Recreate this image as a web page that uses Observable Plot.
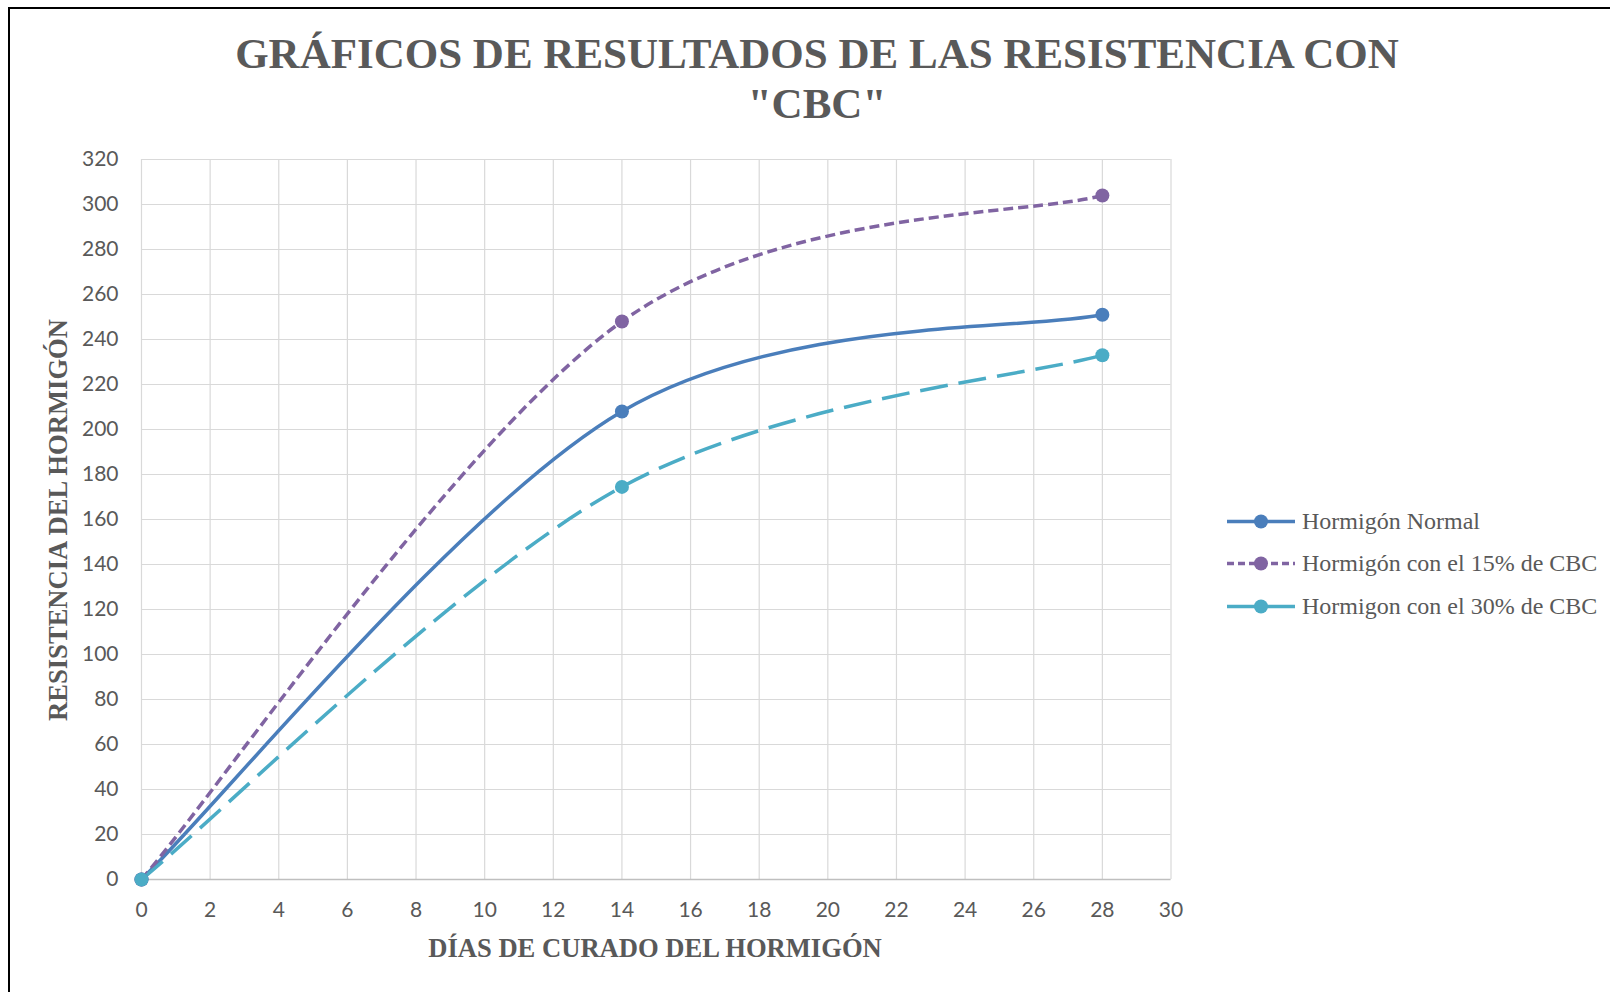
<!DOCTYPE html>
<html>
<head>
<meta charset="utf-8">
<script src="https://cdn.jsdelivr.net/npm/d3@7"></script>
<script src="https://cdn.jsdelivr.net/npm/@observablehq/plot@0.6"></script>
<style>
  html, body { margin: 0; padding: 0; background: #fff; }
  #wrap { position: relative; width: 1610px; height: 992px; overflow: hidden; background: #fff; }
  #frame { position: absolute; left: 8px; top: 7px; width: 1700px; height: 1100px; border-left: 2px solid #000; border-top: 2px solid #000; }
  #title { position: absolute; left: 0; width: 1634px; top: 29px; text-align: center; font-family: "Liberation Serif", "Times New Roman", serif; font-weight: bold; font-size: 43px; line-height: 50px; color: #595959; }
  .axtitle { position: absolute; font-family: "Liberation Serif", "Times New Roman", serif; font-weight: bold; font-size: 26.6px; color: #595959; white-space: nowrap; }
  #xtitle { left: 655px; top: 948px; transform: translate(-50%, -50%); }
  #ytitle { left: 58px; top: 520px; transform: translate(-50%, -50%) rotate(-90deg); }
  #legend { position: absolute; left: 1226px; top: 0; font-family: "Liberation Serif", "Times New Roman", serif; font-size: 24px; color: #595959; }
  .item { position: absolute; left: 0; display: flex; align-items: center; white-space: nowrap; transform: translateY(-50%); }
  .item svg { margin-right: 6px; }
  #chart { position: absolute; left: 0; top: 0; }
</style>
</head>
<body>
<div id="wrap">
  <div id="frame"></div>
  <div id="chart"></div>
  <div id="title">GRÁFICOS DE RESULTADOS DE LAS RESISTENCIA CON<br>"CBC"</div>
  <div id="xtitle" class="axtitle">DÍAS DE CURADO DEL HORMIGÓN</div>
  <div id="ytitle" class="axtitle">RESISTENCIA DEL HORMIGÓN</div>
  <div id="legend"></div>
</div>
<script>
// ---- data ----
const days = [0, 14, 28];
const normal = [0, 208, 251];
const cbc15 = [0, 248, 304];
const cbc30 = [0, 174.5, 233];
const seriesNames = ["Hormigón Normal", "Hormigón con el 15% de CBC", "Hormigon con el 30% de CBC"];
const xTicks = [0, 2, 4, 6, 8, 10, 12, 14, 16, 18, 20, 22, 24, 26, 28, 30];
const yTicks = [0, 20, 40, 60, 80, 100, 120, 140, 160, 180, 200, 220, 240, 260, 280, 300, 320];

// ---- styles ----
const colors = ["#4A7EBB", "#8064A2", "#4BACC6"];
const dashes = [null, "10,5", "28,11"];
const legendDashes = [null, "7,4", null];
const seriesValues = [normal, cbc15, cbc30];

// Excel-style smoothed line: Catmull-Rom with endpoint tangents along the end chords
function ExcelSmooth(context) { this._context = context; }
ExcelSmooth.prototype = {
  areaStart() { this._line = 0; },
  areaEnd() { this._line = NaN; },
  lineStart() { this._pts = []; },
  point(x, y) { this._pts.push([+x, +y]); },
  lineEnd() {
    const p = this._pts, n = p.length, c = this._context;
    if (!n) return;
    if (this._line === 0) c.lineTo(p[0][0], p[0][1]); else c.moveTo(p[0][0], p[0][1]);
    if (n === 2) { c.lineTo(p[1][0], p[1][1]); }
    else {
      for (let i = 0; i < n - 1; i++) {
        const p0 = p[i - 1] || p[i], p1 = p[i], p2 = p[i + 1], p3 = p[i + 2] || p[i + 1];
        c.bezierCurveTo(
          p1[0] + (p2[0] - p0[0]) / 6, p1[1] + (p2[1] - p0[1]) / 6,
          p2[0] - (p3[0] - p1[0]) / 6, p2[1] - (p3[1] - p1[1]) / 6,
          p2[0], p2[1]);
      }
    }
  }
};
const excelSmooth = (ctx) => new ExcelSmooth(ctx);

const series = seriesNames.map((name, i) => ({
  name, color: colors[i], dash: dashes[i], legendDash: legendDashes[i],
  data: days.map((d, j) => ({x: d, y: seriesValues[i][j]}))
}));

const lines = series.map(s => Plot.line(s.data, {
  x: "x", y: "y", curve: excelSmooth, stroke: s.color, strokeWidth: 3.5,
  strokeDasharray: s.dash, strokeLinecap: "butt"
}));
const dots = series.map(s => Plot.dot(s.data, {x: "x", y: "y", r: 7, fill: s.color, stroke: "none"}));

const chart = Plot.plot({
  width: 1610,
  height: 992,
  marginLeft: 141,
  marginRight: 439.5,
  marginTop: 159,
  marginBottom: 113,
  style: {background: "transparent", fontFamily: "Lato, 'Open Sans', sans-serif", fontSize: "21px", color: "#595959"},
  x: {domain: [0, 30]},
  y: {domain: [0, 320]},
  marks: [
    Plot.gridX(xTicks, {stroke: "#d9d9d9", strokeOpacity: 1, strokeWidth: 1.2}),
    Plot.gridY(yTicks, {stroke: "#d9d9d9", strokeOpacity: 1, strokeWidth: 1.2}),
    Plot.ruleY([0], {stroke: "#bfbfbf", strokeWidth: 1.5}),
    Plot.axisX({ticks: xTicks, tickSize: 0, tickPadding: 23, label: null, fill: "#595959"}),
    Plot.axisY({ticks: yTicks, tickSize: 0, tickPadding: 23, label: null, fill: "#595959"}),
    ...lines,
    ...dots
  ]
});
document.getElementById("chart").appendChild(chart);

// ---- legend ----
const legendY = [521, 563, 606];
const legend = document.getElementById("legend");
series.forEach((s, i) => {
  const item = document.createElement("div");
  item.className = "item";
  item.style.top = legendY[i] + "px";
  const dash = s.legendDash ? ` stroke-dasharray="${s.legendDash}"` : "";
  item.innerHTML = `<svg width="70" height="16"><line x1="1" x2="69" y1="8" y2="8" stroke="${s.color}" stroke-width="3.5"${dash}/><circle cx="35" cy="8" r="7" fill="${s.color}"/></svg><span>${s.name}</span>`;
  legend.appendChild(item);
});
</script>
</body>
</html>
